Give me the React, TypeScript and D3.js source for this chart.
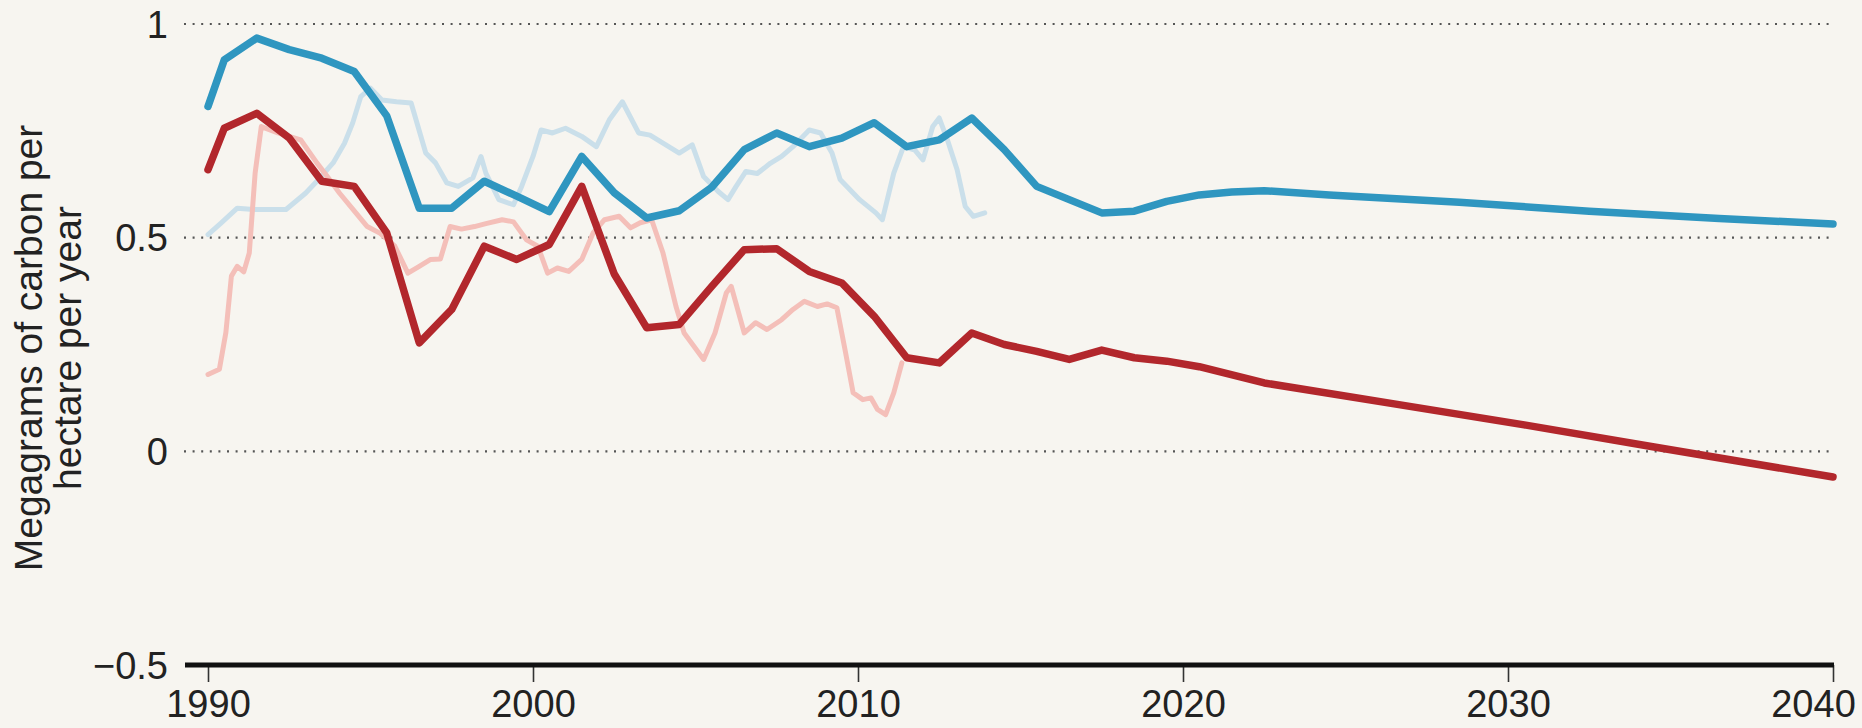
import React, { useEffect, useRef } from "react";
import * as d3 from "d3";

// dark (model) series
const blueYears = [1990, 1990.5, 1991.5, 1992.5, 1993.5, 1994.5, 1995.5, 1996.5, 1997.5, 1998.5, 1999.5, 2000.5, 2001.5, 2002.5, 2003.5, 2004.5, 2005.5, 2006.5, 2007.5, 2008.5, 2009.5, 2010.5, 2011.5, 2012.5, 2013.5, 2014.5, 2015.5, 2016.5, 2017.5, 2018.5, 2019.5, 2020.5, 2021.5, 2022.5, 2024.5, 2028.5, 2032.5, 2036.5, 2040];
const blueValues = [0.807, 0.916, 0.967, 0.94, 0.92, 0.889, 0.785, 0.569, 0.569, 0.632, 0.597, 0.561, 0.69, 0.605, 0.546, 0.563, 0.618, 0.706, 0.745, 0.713, 0.733, 0.769, 0.713, 0.729, 0.78, 0.706, 0.62, 0.589, 0.558, 0.562, 0.585, 0.6, 0.607, 0.61, 0.6, 0.583, 0.562, 0.545, 0.532];

const redYears = [1990, 1990.5, 1991.5, 1992.5, 1993.5, 1994.5, 1995.5, 1996.5, 1997.5, 1998.5, 1999.5, 2000.5, 2001.5, 2002.5, 2003.5, 2004.5, 2005.5, 2006.5, 2007.5, 2008.5, 2009.5, 2010.5, 2011.5, 2012.5, 2013.5, 2014.5, 2015.5, 2016.5, 2017.5, 2018.5, 2019.5, 2020.5, 2022.5, 2026.5, 2030.5, 2034.5, 2040];
const redValues = [0.659, 0.756, 0.791, 0.733, 0.632, 0.62, 0.511, 0.254, 0.332, 0.48, 0.449, 0.484, 0.62, 0.415, 0.289, 0.297, 0.386, 0.472, 0.474, 0.421, 0.394, 0.316, 0.219, 0.207, 0.277, 0.25, 0.234, 0.215, 0.237, 0.219, 0.211, 0.198, 0.16, 0.111, 0.062, 0.01, -0.06];

// light (observed) series
const lightBlueYears = [1990, 1990.4, 1990.9, 1991.4, 1992.4, 1993, 1993.35, 1993.85, 1994.2, 1994.45, 1994.7, 1995, 1995.35, 1995.8, 1996.25, 1996.7, 1997, 1997.35, 1997.7, 1998.15, 1998.4, 1998.55, 1998.95, 1999.4, 1999.65, 2000, 2000.25, 2000.6, 2001, 2001.5, 2001.95, 2002.35, 2002.75, 2003.25, 2003.6, 2004.5, 2004.9, 2005.25, 2005.7, 2006, 2006.25, 2006.55, 2006.9, 2007.3, 2007.65, 2008, 2008.5, 2008.85, 2009.2, 2009.45, 2010.05, 2010.55, 2010.75, 2011.1, 2011.4, 2011.75, 2012, 2012.3, 2012.5, 2012.75, 2013.05, 2013.3, 2013.55, 2013.9];
const lightBlueValues = [0.507, 0.534, 0.569, 0.566, 0.566, 0.604, 0.632, 0.675, 0.721, 0.768, 0.83, 0.85, 0.822, 0.818, 0.815, 0.698, 0.675, 0.628, 0.62, 0.64, 0.69, 0.651, 0.589, 0.577, 0.62, 0.69, 0.752, 0.745, 0.756, 0.737, 0.713, 0.776, 0.818, 0.745, 0.74, 0.698, 0.717, 0.643, 0.608, 0.589, 0.62, 0.655, 0.65, 0.674, 0.69, 0.713, 0.752, 0.745, 0.698, 0.636, 0.589, 0.558, 0.542, 0.651, 0.713, 0.705, 0.682, 0.76, 0.78, 0.729, 0.659, 0.573, 0.55, 0.558];

const lightRedYears = [1990, 1990.35, 1990.55, 1990.72, 1990.9, 1991.1, 1991.27, 1991.45, 1991.64, 1992.15, 1992.85, 1993.35, 1993.7, 1994.05, 1994.55, 1994.9, 1995.3, 1995.75, 1996.15, 1996.5, 1996.85, 1997.15, 1997.45, 1997.8, 1998.2, 1998.55, 1999.05, 1999.4, 1999.8, 2000.15, 2000.45, 2000.75, 2001.1, 2001.5, 2001.85, 2002.2, 2002.65, 2003, 2003.3, 2003.65, 2004, 2004.4, 2004.65, 2005.25, 2005.6, 2005.95, 2006.1, 2006.5, 2006.85, 2007.2, 2007.65, 2008, 2008.35, 2008.75, 2009.05, 2009.35, 2009.6, 2009.85, 2010.15, 2010.4, 2010.6, 2010.85, 2011.1, 2011.35];
const lightRedValues = [0.18, 0.192, 0.278, 0.41, 0.433, 0.42, 0.464, 0.651, 0.76, 0.745, 0.729, 0.675, 0.64, 0.604, 0.558, 0.526, 0.51, 0.48, 0.417, 0.433, 0.449, 0.45, 0.526, 0.52, 0.526, 0.533, 0.542, 0.537, 0.495, 0.48, 0.417, 0.429, 0.421, 0.449, 0.511, 0.542, 0.55, 0.523, 0.535, 0.542, 0.464, 0.339, 0.277, 0.215, 0.277, 0.371, 0.386, 0.277, 0.301, 0.285, 0.308, 0.332, 0.351, 0.339, 0.345, 0.336, 0.238, 0.137, 0.121, 0.125, 0.098, 0.086, 0.137, 0.207];

const xTicks = [1990, 2000, 2010, 2020, 2030, 2040];
const yTicks = [1, 0.5, 0, -0.5];
const yTickLabels = ["1", "0.5", "0", "\u22120.5"];
const titleLines = ["Megagrams of carbon per", "hectare per year"];

export default function App() {
  const svgRef = useRef(null);

  useEffect(() => {
    const width = 1862;
    const height = 728;
    const font = "'Liberation Sans', Arial, sans-serif";

    const svg = d3.select(svgRef.current);
    svg.selectAll("*").remove();

    svg.append("rect").attr("width", width).attr("height", height).attr("fill", "#f7f5f0");

    const xScale = d3.scaleLinear().domain([1990, 2040]).range([208, 1833]);
    const yScale = d3.scaleLinear().domain([-0.5, 1]).range([665, 24]);

    // dotted grid lines
    svg
      .selectAll(".grid")
      .data(yTicks.filter((d) => d > -0.5))
      .enter()
      .append("line")
      .attr("x1", 184)
      .attr("x2", 1833)
      .attr("y1", (d) => yScale(d))
      .attr("y2", (d) => yScale(d))
      .attr("stroke", "#555")
      .attr("stroke-width", 2.2)
      .attr("stroke-dasharray", "2 6.6");

    // y labels
    svg
      .selectAll(".ylab")
      .data(yTicks)
      .enter()
      .append("text")
      .attr("x", 168)
      .attr("y", (d) => yScale(d))
      .attr("dy", "0.36em")
      .attr("text-anchor", "end")
      .attr("font-family", font)
      .attr("font-size", 38)
      .attr("fill", "#222")
      .text((d, i) => yTickLabels[i]);

    const line = d3
      .line()
      .x((d) => xScale(d[0]))
      .y((d) => yScale(d[1]))
      .curve(d3.curveLinear);

    const zip = (xs, ys) => xs.map((x, i) => [x, ys[i]]);

    const series = [
      { data: zip(lightBlueYears, lightBlueValues), color: "#cadfea", w: 5 },
      { data: zip(lightRedYears, lightRedValues), color: "#f4bfb9", w: 5 },
      { data: zip(blueYears, blueValues), color: "#2f96c0", w: 7.5 },
      { data: zip(redYears, redValues), color: "#b2272c", w: 7.5 },
    ];

    series.forEach((s) => {
      svg
        .append("path")
        .datum(s.data)
        .attr("fill", "none")
        .attr("stroke", s.color)
        .attr("stroke-width", s.w)
        .attr("stroke-linejoin", "round")
        .attr("stroke-linecap", "round")
        .attr("d", line);
    });

    // x axis
    const xAxis = d3.axisBottom(xScale).tickValues(xTicks).tickFormat(d3.format("d")).tickSize(17).tickPadding(8);
    const xg = svg.append("g").attr("transform", "translate(0, 665)").call(xAxis);
    xg.select(".domain").remove();
    xg.selectAll(".tick line").attr("stroke", "#333").attr("stroke-width", 1.6);
    xg.selectAll(".tick text")
      .attr("font-family", font)
      .attr("font-size", 38)
      .attr("fill", "#222")
      .attr("dx", (d) => (d === 2040 ? -20 : 0));

    svg
      .append("line")
      .attr("x1", 185)
      .attr("x2", 1834)
      .attr("y1", 665)
      .attr("y2", 665)
      .attr("stroke", "#111")
      .attr("stroke-width", 5);

    // axis title
    svg
      .selectAll(".title")
      .data(titleLines)
      .enter()
      .append("text")
      .attr("transform", (d, i) => `translate(${42 + i * 39}, 348) rotate(-90)`)
      .attr("text-anchor", "middle")
      .attr("font-family", font)
      .attr("font-size", 39)
      .attr("fill", "#222")
      .text((d) => d);
  }, []);

  return (
    <div style={{ position: "absolute", left: 0, top: 0 }}>
      <svg ref={svgRef} width={1862} height={728} style={{ display: "block" }}></svg>
    </div>
  );
}
